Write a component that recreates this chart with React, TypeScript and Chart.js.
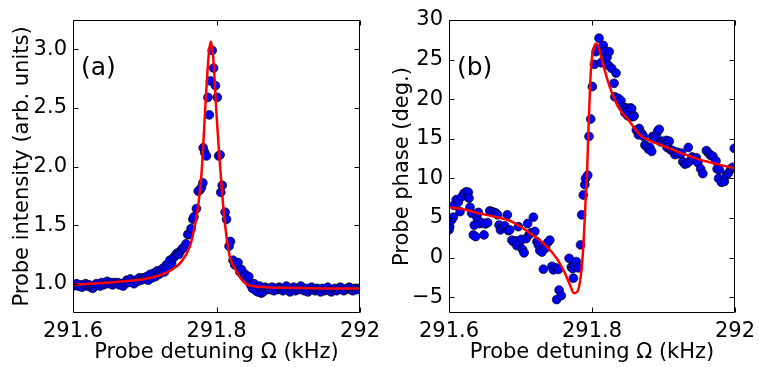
import React, { useEffect, useRef } from "react";
import { Chart, registerables } from "chart.js";

Chart.register(...registerables);

// ---------- axis ticks ----------
const xTickValues = [291.6, 291.8, 292];
const xTickLabels = ["291.6", "291.8", "292"];
const intensityTickValues = [1.0, 1.5, 2.0, 2.5, 3.0];
const intensityTickLabels = ["1.0", "1.5", "2.0", "2.5", "3.0"];
const phaseTickValues = [-5, 0, 5, 10, 15, 20, 25, 30];
const phaseTickLabels = ["\u22125", "0", "5", "10", "15", "20", "25", "30"];

// ---------- panel (a): probe intensity ----------
const intensityPoints: number[][] = [
  [291.6, 0.98], [291.6025, 0.99], [291.605, 1.0], [291.6075, 0.98], [291.61, 0.99],
  [291.6125, 0.97], [291.615, 0.99], [291.6175, 1.0], [291.62, 0.98], [291.6225, 0.99],
  [291.625, 0.97], [291.6275, 0.96], [291.63, 0.98], [291.6325, 1.0], [291.635, 0.99],
  [291.6375, 0.98], [291.64, 1.01], [291.6425, 0.99], [291.645, 1.0], [291.6475, 1.02],
  [291.65, 1.0], [291.6525, 1.01], [291.655, 0.99], [291.6575, 1.01], [291.66, 1.0],
  [291.6625, 1.01], [291.665, 0.99], [291.6675, 1.0], [291.67, 0.98], [291.6725, 1.01],
  [291.675, 1.03], [291.6775, 1.01], [291.68, 1.04], [291.6825, 1.02], [291.685, 1.0],
  [291.6875, 1.03], [291.69, 1.02], [291.6925, 1.05], [291.695, 1.03], [291.6975, 1.05],
  [291.7, 1.04], [291.7025, 1.06], [291.705, 1.03], [291.7075, 1.08], [291.71, 1.05],
  [291.7125, 1.09], [291.715, 1.06], [291.7175, 1.11], [291.72, 1.08], [291.7225, 1.1],
  [291.725, 1.13], [291.7275, 1.1], [291.73, 1.16], [291.7325, 1.14], [291.735, 1.2],
  [291.7375, 1.17], [291.74, 1.22], [291.7425, 1.24], [291.745, 1.26], [291.7475, 1.25],
  [291.75, 1.28], [291.7525, 1.3], [291.755, 1.31], [291.7575, 1.34], [291.76, 1.42],
  [291.762, 1.42], [291.7645, 1.47], [291.767, 1.55], [291.7685, 1.57], [291.772, 1.64],
  [291.7745, 1.79], [291.777, 1.8], [291.779, 1.82], [291.781, 1.86], [291.7815, 2.16],
  [291.7835, 2.12], [291.786, 2.09], [291.788, 2.59], [291.79, 2.44], [291.7915, 2.73],
  [291.794, 2.99], [291.796, 2.84], [291.7985, 2.69], [291.801, 2.59], [291.803, 2.09],
  [291.805, 2.1], [291.806, 1.78], [291.808, 1.84], [291.812, 1.61], [291.814, 1.55],
  [291.8175, 1.32], [291.8195, 1.36], [291.823, 1.2], [291.8255, 1.16], [291.828, 1.18],
  [291.83, 1.18], [291.8325, 1.1], [291.835, 1.12], [291.8375, 1.07], [291.84, 1.08],
  [291.8425, 1.03], [291.845, 1.06], [291.8475, 0.99], [291.85, 0.96], [291.8525, 1.0],
  [291.855, 0.94], [291.8575, 0.93], [291.86, 0.98], [291.8625, 0.92], [291.865, 0.93],
  [291.8675, 0.97], [291.87, 0.95], [291.8725, 0.96], [291.875, 0.95], [291.8775, 0.97],
  [291.88, 0.94], [291.8825, 0.96], [291.885, 0.95], [291.8875, 0.97], [291.89, 0.96],
  [291.8925, 0.94], [291.895, 0.95], [291.8975, 0.98], [291.9, 0.96], [291.9025, 0.93],
  [291.905, 0.95], [291.9075, 0.97], [291.91, 0.94], [291.9125, 0.96], [291.915, 0.95],
  [291.9175, 0.98], [291.92, 0.95], [291.9225, 0.94], [291.925, 0.96], [291.9275, 0.93],
  [291.93, 0.95], [291.9325, 0.97], [291.935, 0.95], [291.9375, 0.94], [291.94, 0.96],
  [291.9425, 0.95], [291.945, 0.93], [291.9475, 0.96], [291.95, 0.94], [291.9525, 0.95],
  [291.955, 0.97], [291.9575, 0.94], [291.96, 0.93], [291.9625, 0.95], [291.965, 0.96],
  [291.9675, 0.94], [291.97, 0.95], [291.9725, 0.97], [291.975, 0.96], [291.9775, 0.94],
  [291.98, 0.95], [291.9825, 0.96], [291.985, 0.97], [291.9875, 0.95], [291.99, 0.94],
  [291.9925, 0.96], [291.995, 0.95], [291.9975, 0.96], [292.0, 0.95],
];

const intensityFit: number[][] = [
  [291.6, 0.99], [291.64, 1.005], [291.68, 1.025], [291.7, 1.04], [291.72, 1.07],
  [291.735, 1.11], [291.75, 1.18], [291.763, 1.32], [291.77, 1.5], [291.7744, 1.66],
  [291.7791, 1.94], [291.7814, 2.17], [291.7847, 2.54], [291.7875, 2.82], [291.7898, 2.99],
  [291.7921, 3.066], [291.7945, 2.99], [291.7967, 2.82], [291.7991, 2.54], [291.8015, 2.31],
  [291.8037, 2.11], [291.8071, 1.83], [291.8103, 1.6], [291.814, 1.4], [291.8186, 1.23],
  [291.8256, 1.13], [291.8372, 1.02], [291.8465, 0.985], [291.87, 0.97], [291.9, 0.965],
  [291.95, 0.96], [292.0, 0.958],
];

// ---------- panel (b): probe phase ----------
const phasePoints: number[][] = [
  [291.6, 3.5], [291.601, 3.9], [291.6037, 4.75], [291.606, 5.1], [291.607, 6.6],
  [291.61, 7.3], [291.613, 7.0], [291.6154, 5.8], [291.618, 7.7], [291.621, 8.1],
  [291.624, 8.3], [291.627, 8.25], [291.628, 7.5], [291.6294, 6.35], [291.6317, 5.6],
  [291.634, 2.86], [291.6354, 4.1], [291.6373, 2.65], [291.639, 5.1], [291.641, 5.7],
  [291.643, 4.3], [291.646, 4.4], [291.649, 2.86], [291.651, 4.25], [291.654, 4.4],
  [291.657, 5.9], [291.66, 5.8], [291.663, 5.7], [291.666, 5.6], [291.668, 5.4],
  [291.67, 4.1], [291.672, 3.5], [291.675, 3.9], [291.678, 4.0], [291.6816, 5.4],
  [291.683, 3.4], [291.685, 3.5], [291.688, 2.2], [291.69, 2.0], [291.693, 2.1],
  [291.695, 1.5], [291.697, 3.9], [291.699, 1.9], [291.701, 2.3], [291.703, 1.0],
  [291.705, 0.6], [291.708, 2.4], [291.71, 4.3], [291.712, 2.9], [291.714, 3.1],
  [291.718, 5.1], [291.72, 3.3], [291.723, 2.0], [291.725, 1.6], [291.727, 0.9],
  [291.73, 0.7], [291.732, -1.47], [291.735, 1.2], [291.738, 1.9], [291.741, 2.2],
  [291.744, -1.1], [291.746, -1.55], [291.7506, -5.3], [291.75, -1.3], [291.753, -1.5],
  [291.754, -4.1], [291.757, -4.8], [291.768, -0.1], [291.771, -1.2], [291.773, -1.4],
  [291.774, -2.6], [291.776, -1.0], [291.778, -0.5], [291.781, -1.3], [291.784, 1.6],
  [291.7856, 5.4], [291.7878, 7.9], [291.79, 9.2], [291.791, 10.0], [291.794, 10.4],
  [291.7958, 15.3], [291.7982, 17.5], [291.8005, 21.6], [291.8033, 24.4], [291.8056, 26.0],
  [291.8074, 26.3], [291.8098, 27.7], [291.8126, 24.6], [291.8158, 26.8], [291.818, 26.0],
  [291.821, 25.3], [291.824, 26.0], [291.8228, 24.3], [291.8275, 23.9], [291.8308, 22.0],
  [291.8336, 23.3], [291.832, 20.3], [291.837, 20.1], [291.8406, 19.8], [291.8438, 19.0],
  [291.848, 18.9], [291.854, 18.9], [291.846, 18.3], [291.85, 17.9], [291.855, 17.8],
  [291.859, 17.9], [291.8555, 18.8], [291.8578, 17.8], [291.862, 16.1], [291.865, 15.5],
  [291.866, 16.3], [291.868, 15.8], [291.87, 15.6], [291.872, 15.3], [291.874, 14.2],
  [291.877, 14.0], [291.879, 13.7], [291.881, 13.9], [291.8835, 13.4], [291.885, 15.3],
  [291.888, 15.0], [291.89, 15.5], [291.892, 16.0], [291.894, 16.2], [291.896, 14.6],
  [291.898, 14.7], [291.901, 14.6], [291.904, 14.8], [291.906, 14.5], [291.908, 14.7],
  [291.905, 13.9], [291.91, 13.6], [291.913, 13.5], [291.916, 13.0], [291.919, 13.3],
  [291.922, 13.1], [291.925, 13.2], [291.9347, 13.9], [291.927, 12.1], [291.93, 11.8],
  [291.933, 11.9], [291.937, 12.2], [291.94, 12.7], [291.942, 12.5], [291.946, 12.6],
  [291.948, 12.0], [291.952, 11.2], [291.955, 10.6], [291.96, 13.5], [291.963, 13.2],
  [291.966, 12.9], [291.969, 12.8], [291.9734, 12.2], [291.975, 11.2], [291.978, 11.1],
  [291.977, 10.0], [291.981, 9.5], [291.985, 9.6], [291.988, 10.4], [291.991, 10.7],
  [291.994, 11.2], [291.997, 11.4], [291.999, 13.8],
];

const phaseFit: number[][] = [
  [291.6, 6.35], [291.62, 6.1], [291.641, 5.6], [291.657, 5.3], [291.6877, 4.54],
  [291.7133, 3.1], [291.7343, 1.6], [291.7506, -0.1], [291.7622, -1.97], [291.7692, -3.44],
  [291.7748, -4.5], [291.7795, -4.3], [291.7842, -2.4], [291.7879, 1.4], [291.7911, 7.3],
  [291.793, 10.5], [291.795, 16.0], [291.7975, 22.0], [291.8, 25.3], [291.803, 26.6],
  [291.8058, 27.0], [291.809, 26.6], [291.8135, 25.1], [291.8205, 22.8], [291.8275, 20.9],
  [291.8368, 19.0], [291.8508, 17.4], [291.8671, 15.5], [291.8997, 14.1], [291.9464, 12.5],
  [291.975, 11.8], [292.0, 11.25],
];

const FONT = "'DejaVu Sans', 'Liberation Sans', sans-serif";

const framePlugin = {
  id: "frame",
  afterDatasetsDraw(chart: any, _args: any, opts: any) {
    const { ctx, chartArea, scales } = chart;
    const { left, top, right, bottom } = chartArea;
    ctx.save();
    ctx.strokeStyle = "#000";
    ctx.lineWidth = 1;
    const L = Math.round(left) + 0.5;
    const T = Math.round(top) + 0.5;
    const R = Math.round(right) - 0.5;
    const B = Math.round(bottom) - 0.5;
    ctx.beginPath();
    ctx.rect(L, T, R - L, B - T);
    ctx.stroke();
    const tl = 5;
    ctx.beginPath();
    for (const v of opts.xTicks) {
      const px = Math.round(scales.x.getPixelForValue(v)) + 0.5;
      ctx.moveTo(px, B);
      ctx.lineTo(px, B - tl);
      ctx.moveTo(px, T);
      ctx.lineTo(px, T + tl);
    }
    for (const v of opts.yTicks) {
      const py = Math.round(scales.y.getPixelForValue(v)) + 0.5;
      ctx.moveTo(L, py);
      ctx.lineTo(L + tl, py);
      ctx.moveTo(R, py);
      ctx.lineTo(R - tl, py);
    }
    ctx.stroke();
    ctx.fillStyle = "#000";
    ctx.font = `25px ${FONT}`;
    ctx.textBaseline = "alphabetic";
    ctx.textAlign = "left";
    ctx.fillText(opts.label, left + 8, top + 55);
    ctx.restore();
  },
};

type PanelProps = {
  width: number;
  height: number;
  left: number;
  plotLeft: number;
  plotRight: number;
  plotTop: number;
  plotBottom: number;
  points: number[][];
  fit: number[][];
  yMin: number;
  yMax: number;
  yTicks: number[];
  yLabels: string[];
  yTitle: string;
  label: string;
};

function Panel(p: PanelProps) {
  const ref = useRef<HTMLCanvasElement | null>(null);
  useEffect(() => {
    if (!ref.current) return;
    const chart = new Chart(ref.current, {
      type: "scatter",
      data: {
        datasets: [
          {
            type: "line",
            data: p.fit.map(([x, y]) => ({ x, y })),
            borderColor: "#ff0000",
            borderWidth: 2.5,
            pointRadius: 0,
            fill: false,
            cubicInterpolationMode: "monotone",
            order: 0,
          } as any,
          {
            type: "scatter",
            data: p.points.map(([x, y]) => ({ x, y })),
            pointRadius: 4.4,
            pointBackgroundColor: "#0000ff",
            pointBorderColor: "#000000",
            pointBorderWidth: 0.7,
            order: 1,
          } as any,
        ],
      },
      options: {
        animation: false,
        responsive: false,
        maintainAspectRatio: false,
        layout: {
          padding: {
            left: 0,
            top: p.plotTop,
            right: p.width - p.plotRight,
            bottom: 0,
          },
        },
        plugins: {
          legend: { display: false },
          tooltip: { enabled: false },
          frame: { label: p.label, xTicks: xTickValues, yTicks: p.yTicks },
        } as any,
        scales: {
          x: {
            type: "linear",
            min: 291.6,
            max: 292,
            afterBuildTicks: (s: any) => {
              s.ticks = xTickValues.map((v) => ({ value: v }));
            },
            afterFit: (s: any) => {
              s.height = p.height - p.plotBottom;
              s.paddingLeft = 0;
              s.paddingRight = 0;
            },
            ticks: {
              autoSkip: false,
              maxRotation: 0,
              padding: 6,
              color: "#000",
              font: { family: FONT, size: 21 },
              callback: (v: any) => {
                const i = xTickValues.findIndex((t) => Math.abs(t - Number(v)) < 1e-6);
                return i >= 0 ? xTickLabels[i] : "";
              },
            },
            grid: { display: false, drawTicks: false },
            border: { display: false },
            title: {
              display: true,
              text: "Probe detuning \u03A9 (kHz)",
              color: "#000",
              font: { family: FONT, size: 21 },
              padding: { top: 0, bottom: 2 },
            },
          },
          y: {
            type: "linear",
            min: p.yMin,
            max: p.yMax,
            afterBuildTicks: (s: any) => {
              s.ticks = p.yTicks.map((v) => ({ value: v }));
            },
            afterFit: (s: any) => {
              s.width = p.plotLeft;
            },
            ticks: {
              autoSkip: false,
              padding: 6,
              color: "#000",
              font: { family: FONT, size: 21 },
              callback: (v: any) => {
                const i = p.yTicks.findIndex((t) => Math.abs(t - Number(v)) < 1e-6);
                return i >= 0 ? p.yLabels[i] : "";
              },
            },
            grid: { display: false, drawTicks: false },
            border: { display: false },
            title: {
              display: true,
              text: p.yTitle,
              color: "#000",
              font: { family: FONT, size: 21 },
              padding: { top: 10, bottom: 0 },
            },
          },
        },
      } as any,
      plugins: [framePlugin],
    });
    return () => chart.destroy();
  }, []);
  return (
    <canvas
      ref={ref}
      width={p.width}
      height={p.height}
      style={{
        position: "absolute",
        left: p.left,
        top: 0,
        width: p.width,
        height: p.height,
      }}
    />
  );
}

export default function App() {
  return (
    <div
      style={{
        position: "fixed",
        left: 0,
        top: 0,
        width: 759,
        height: 367,
        background: "#fff",
        overflow: "hidden",
      }}
    >
      <Panel
        width={380}
        height={367}
        left={0}
        plotLeft={73}
        plotRight={360}
        plotTop={20}
        plotBottom={313}
        points={intensityPoints}
        fit={intensityFit}
        yMin={0.75}
        yMax={3.25}
        yTicks={intensityTickValues}
        yLabels={intensityTickLabels}
        yTitle="Probe intensity (arb. units)"
        label="(a)"
      />
      <Panel
        width={379}
        height={367}
        left={380}
        plotLeft={69}
        plotRight={355}
        plotTop={20}
        plotBottom={313}
        points={phasePoints}
        fit={phaseFit}
        yMin={-7}
        yMax={30}
        yTicks={phaseTickValues}
        yLabels={phaseTickLabels}
        yTitle="Probe phase (deg.)"
        label="(b)"
      />
    </div>
  );
}
